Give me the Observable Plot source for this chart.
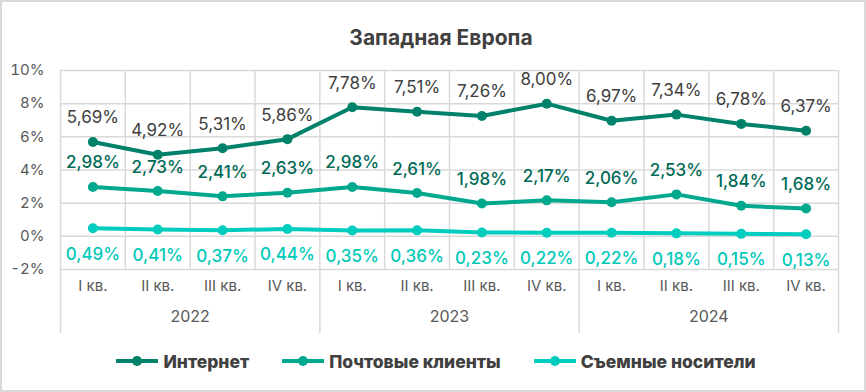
<!DOCTYPE html>
<html>
<head>
<meta charset="utf-8">
<script src="https://cdn.jsdelivr.net/npm/d3@7"></script>
<script src="https://cdn.jsdelivr.net/npm/@observablehq/plot@0.6"></script>
<style>
  html, body { margin: 0; padding: 0; background: #fff; }
  #chart {
    position: relative; width: 866px; height: 392px; box-sizing: border-box;
    outline: 2px solid #d9d9d9; outline-offset: -2px; background: #fff;
    font-family: Inter, "Noto Sans", sans-serif; overflow: hidden;
  }
  #title {
    height: 55px; box-sizing: border-box; padding-top: 24px; padding-left: 16px;
    text-align: center; font-weight: 700; font-size: 21px; color: #404040; line-height: 28px;
  }
  #plot svg { display: block; }
  #legend {
    height: 50px; display: flex; justify-content: center; align-items: center;
    gap: 33px; padding-left: 6px; box-sizing: border-box; padding-bottom: 8px;
  }
  .item { display: flex; align-items: center; }
  .item span { font-weight: 800; font-size: 17.5px; color: #404040; margin-left: 5px; }
</style>
</head>
<body>
<div id="chart">
  <div id="title"></div>
  <div id="plot"></div>
  <div id="legend"></div>
</div>
<script>
const title = "Западная Европа";
const quarters = ["I кв.", "II кв.", "III кв.", "IV кв.", "I кв.", "II кв.", "III кв.", "IV кв.", "I кв.", "II кв.", "III кв.", "IV кв."];
const years = ["2022", "2023", "2024"];
const seriesNames = ["Интернет", "Почтовые клиенты", "Съемные носители"];
const internet  = [5.69, 4.92, 5.31, 5.86, 7.78, 7.51, 7.26, 8.00, 6.97, 7.34, 6.78, 6.37];
const mail      = [2.98, 2.73, 2.41, 2.63, 2.98, 2.61, 1.98, 2.17, 2.06, 2.53, 1.84, 1.68];
const removable = [0.49, 0.41, 0.37, 0.44, 0.35, 0.36, 0.23, 0.22, 0.22, 0.18, 0.15, 0.13];
const yTicks = [-2, 0, 2, 4, 6, 8, 10];

const lineColors  = ["#00816a", "#00a88e", "#00cdbd"];
const labelColors = ["#404040", "#006a57", "#00c9b8"];
const labelDy     = [-24, -24, 26];

const allValues = [internet, mail, removable];
const grid = "#d9d9d9";
const fmt = v => v.toFixed(2).replace(".", ",") + "%";

document.getElementById("title").textContent = title;

const data = allValues.flatMap((vals, s) =>
  vals.map((v, i) => ({ s, name: seriesNames[s], i, x: i + 0.5, v }))
);

const marks = [
  Plot.ruleY(yTicks, { stroke: grid, strokeWidth: 1.5 }),
  Plot.ruleX(d3.range(1, 12).filter(i => i % 4 !== 0), { stroke: grid, strokeWidth: 1.5 }),
  Plot.ruleX([0, 4, 8, 12], { stroke: grid, strokeWidth: 1.5, insetBottom: -64 }),
  Plot.axisY(yTicks, {
    tickSize: 0, tickPadding: 16, tickFormat: d => `${d}%`, label: null,
    fontSize: 15, fill: "#595959"
  }),
];

[2, 1, 0].forEach(s => {
  const d = data.filter(r => r.s === s);
  marks.push(
    Plot.line(d, { x: "x", y: "v", stroke: lineColors[s], strokeWidth: 4, strokeLinejoin: "round" }),
    Plot.dot(d, { x: "x", y: "v", r: 5, fill: lineColors[s], stroke: "none" })
  );
});
[0, 1, 2].forEach(s => {
  const d = data.filter(r => r.s === s);
  marks.push(
    Plot.text(d, {
      x: "x", y: "v", text: r => fmt(r.v), dy: labelDy[s],
      fill: labelColors[s], fontSize: 17, fontWeight: s === 0 ? 400 : 500
    })
  );
});

marks.push(
  Plot.text(quarters, { x: (d, i) => i + 0.5, text: d => d, frameAnchor: "bottom", dy: 21, fontSize: 15, fill: "#595959" }),
  Plot.text(years, { x: (d, i) => i * 4 + 2, text: d => d, frameAnchor: "bottom", dy: 52, fontSize: 16, fill: "#595959" })
);

const chart = Plot.plot({
  width: 866, height: 285,
  marginTop: 15, marginLeft: 60, marginRight: 28, marginBottom: 71,
  x: { domain: [0, 12], axis: null },
  y: { domain: [-2, 10], axis: null },
  style: { fontFamily: "Inter, 'Noto Sans', sans-serif", background: "transparent", overflow: "visible" },
  marks
});
document.getElementById("plot").appendChild(chart);

const legend = document.getElementById("legend");
seriesNames.forEach((name, s) => {
  const item = document.createElement("div");
  item.className = "item";
  item.innerHTML = `<svg width="42" height="12"><line x1="1" y1="6" x2="41" y2="6" stroke="${lineColors[s]}" stroke-width="4" stroke-linecap="round"/><circle cx="21" cy="6" r="5" fill="${lineColors[s]}"/></svg><span>${name}</span>`;
  legend.appendChild(item);
});
</script>
</body>
</html>
